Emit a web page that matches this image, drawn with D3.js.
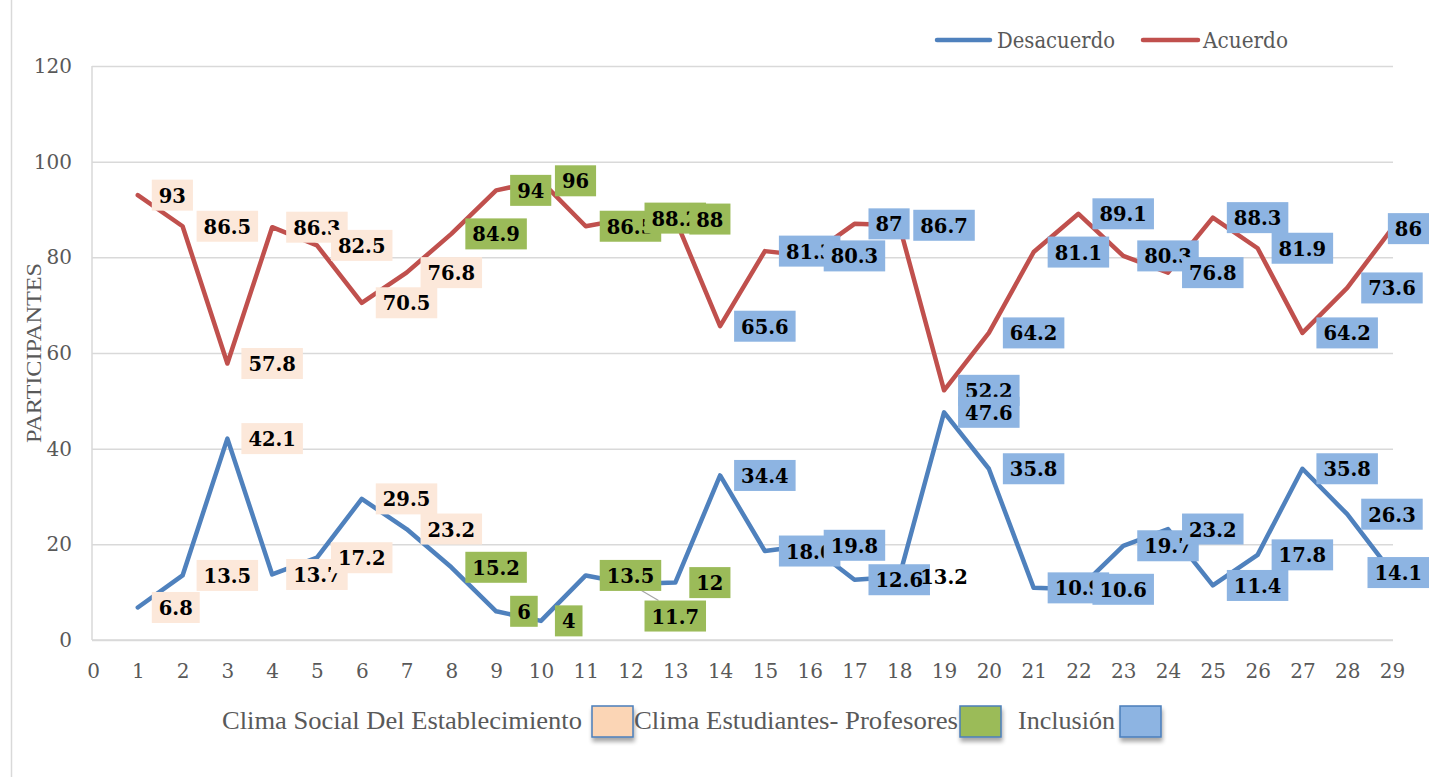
<!DOCTYPE html>
<html><head><meta charset="utf-8">
<script src="https://cdn.jsdelivr.net/npm/d3@7"></script>
<style>body{margin:0;background:#fff;} svg{display:block}</style>
</head><body><svg id="c" width="1430" height="777"></svg>
<script>
// ---- data ----
const points = d3.range(1, 30);
const desacuerdo = [6.8, 13.5, 42.1, 13.7, 17.2, 29.5, 23.2, 15.2, 6, 4, 13.5, 11.7, 12, 34.4, 18.6, 19.8, 12.6, 13.2, 47.6, 35.8, 10.9, 10.6, 19.7, 23.2, 11.4, 17.8, 35.8, 26.3, 14.1];
const acuerdo = [93, 86.5, 57.8, 86.3, 82.5, 70.5, 76.8, 84.9, 94, 96, 86.5, 88.2, 88, 65.6, 81.3, 80.3, 87, 86.7, 52.2, 64.2, 81.1, 89.1, 80.3, 76.8, 88.3, 81.9, 64.2, 73.6, 86];
const sectionNames = ["Clima Social Del Establecimiento", "Clima Estudiantes- Profesores", "Inclusión"];
const pointSection = [0,0,0,0,0,0,0, 1,1,1,1,1,1, 2,2,2,2,2,2,2,2,2,2,2,2,2,2,2,2];
const seriesNames = ["Desacuerdo", "Acuerdo"];
const yTicks = [0, 20, 40, 60, 80, 100, 120];
const xTicks = d3.range(0, 30);
const yTitle = "PARTICIPANTES";

// ---- styles ----
const lineColors = ["#4F81BD", "#C0504D"];
const sectionLabelFill = ["#FCE8DA", "#9BBB59", "#8DB4E2"];
const sectionSwatchFill = ["#FBD5B5", "#9BBB59", "#8DB4E2"];
const gridColor = "#D9D9D9";
const textGray = "#595959";

const W = 1430;
const svg = d3.select("#c");
const x = d3.scaleLinear().domain([0, 29]).range([93, 1392]);
const y = d3.scaleLinear().domain([0, 120]).range([640, 66]);
const plotLeft = 92, plotRight = 1393;

// outer left border
svg.append("line").attr("x1", 11.5).attr("x2", 11.5).attr("y1", 0).attr("y2", 777)
  .attr("stroke", gridColor).attr("stroke-width", 1.5);

// gridlines
const grid = svg.append("g").attr("transform", `translate(${plotLeft},0)`)
  .call(d3.axisLeft(y).tickValues(yTicks).tickSize(-(plotRight - plotLeft)).tickFormat(""));
grid.select(".domain").remove();
grid.selectAll("line").attr("stroke", gridColor).attr("stroke-width", 1.5);

// axis lines
svg.append("line").attr("x1", plotLeft).attr("x2", plotLeft).attr("y1", y(120)).attr("y2", y(0))
  .attr("stroke", gridColor).attr("stroke-width", 1.5);
svg.append("line").attr("x1", plotLeft).attr("x2", plotRight).attr("y1", y(0)).attr("y2", y(0))
  .attr("stroke", gridColor).attr("stroke-width", 1.5);

// y tick labels
const yAx = svg.append("g").attr("transform", "translate(72,0)")
  .call(d3.axisLeft(y).tickValues(yTicks).tickSize(0).tickPadding(0));
yAx.select(".domain").remove();
yAx.selectAll("text").attr("font-family", "DejaVu Serif").attr("font-size", 20).attr("fill", textGray);

// x tick labels
const xAx = svg.append("g").attr("transform", "translate(0,664)")
  .call(d3.axisBottom(x).tickValues(xTicks).tickSize(0).tickPadding(0).tickFormat(d3.format("d")));
xAx.select(".domain").remove();
xAx.selectAll("text").attr("font-family", "DejaVu Serif").attr("font-size", 20).attr("fill", textGray);

// y title
svg.append("text").attr("transform", `translate(41,${(y(0) + y(120)) / 2}) rotate(-90)`)
  .attr("text-anchor", "middle").attr("font-family", "Liberation Serif").attr("font-size", 21)
  .attr("fill", textGray).attr("textLength", 180).attr("lengthAdjust", "spacingAndGlyphs").text(yTitle);

// lines
const series = [desacuerdo, acuerdo];
const lineGen = d3.line().x((d, i) => x(points[i])).y(d => y(d));
series.forEach((s, k) => {
  svg.append("path").datum(s).attr("d", lineGen).attr("fill", "none")
    .attr("stroke", lineColors[k]).attr("stroke-width", 4.5)
    .attr("stroke-linejoin", "round").attr("stroke-linecap", "round");
});

// label tweaks (position/style only)
const labelTweaks = [{11: {dy: 32, leader: true}, 17: {noFill: true}}, {}];
const boxH = 31;

// data labels (Acuerdo labels first, Desacuerdo on top)
[1, 0].forEach(k => {
  const s = series[k];
  const g = svg.append("g").attr("class", "labels");
  s.forEach((v, i) => {
    const tw = labelTweaks[k][i] || {};
    const px = x(points[i]), py = y(v);
    const cy = py + (tw.dy || 0);
    const lg = g.append("g");
    const rect = lg.append("rect");
    const t = lg.append("text").attr("font-family", "DejaVu Serif").attr("font-weight", "bold")
      .attr("font-size", 19.5).attr("fill", "#000").attr("text-anchor", "middle")
      .attr("dominant-baseline", "central").text(v);
    const w = t.node().getComputedTextLength() + 14;
    const left = Math.min(px + 14, W - 1 - w);
    rect.attr("x", left).attr("y", cy - boxH / 2).attr("width", w).attr("height", boxH)
      .attr("fill", tw.noFill ? "none" : sectionLabelFill[pointSection[i]]);
    t.attr("x", left + w / 2).attr("y", cy + 1);
    if (tw.leader) {
      svg.insert("line", "g.labels").attr("x1", px + 5).attr("y1", py + 3).attr("x2", left + 14).attr("y2", cy - boxH / 2)
        .attr("stroke", "#A6A6A6").attr("stroke-width", 1.2);
    }
  });
});

// top legend
const legTop = [{x1: 937, x2: 990, tx: 997, tl: 118}, {x1: 1143, x2: 1198, tx: 1203, tl: 85}];
seriesNames.forEach((n, k) => {
  const L = legTop[k];
  svg.append("line").attr("x1", L.x1).attr("x2", L.x2).attr("y1", 40).attr("y2", 40)
    .attr("stroke", lineColors[k]).attr("stroke-width", 4.5).attr("stroke-linecap", "round");
  svg.append("text").attr("x", L.tx).attr("y", 48).attr("font-family", "DejaVu Serif").attr("font-size", 22)
    .attr("fill", textGray).attr("textLength", L.tl).attr("lengthAdjust", "spacingAndGlyphs").text(n);
});

// bottom legend
const defs = svg.append("defs");
const f = defs.append("filter").attr("id", "sh").attr("x", "-30%").attr("y", "-30%").attr("width", "160%").attr("height", "170%");
f.append("feGaussianBlur").attr("in", "SourceAlpha").attr("stdDeviation", 2);
f.append("feOffset").attr("dx", 1).attr("dy", 4).attr("result", "b");
f.append("feComponentTransfer").append("feFuncA").attr("type", "linear").attr("slope", 0.35);
const fm = f.append("feMerge"); fm.append("feMergeNode"); fm.append("feMergeNode").attr("in", "SourceGraphic");
const legBot = [{tx: 222, tl: 360, bx: 592}, {tx: 634, tl: 324, bx: 960}, {tx: 1018, tl: 97, bx: 1120}];
sectionNames.forEach((n, k) => {
  const L = legBot[k];
  svg.append("text").attr("x", L.tx).attr("y", 729).attr("font-family", "Liberation Serif").attr("font-size", 25)
    .attr("fill", textGray).attr("textLength", L.tl).attr("lengthAdjust", "spacingAndGlyphs").text(n);
  svg.append("rect").attr("x", L.bx).attr("y", 706).attr("width", 41).attr("height", 31)
    .attr("fill", sectionSwatchFill[k]).attr("stroke", "#4A7EBB").attr("stroke-width", 1.5)
    .attr("filter", "url(#sh)");
});
</script></body></html>
